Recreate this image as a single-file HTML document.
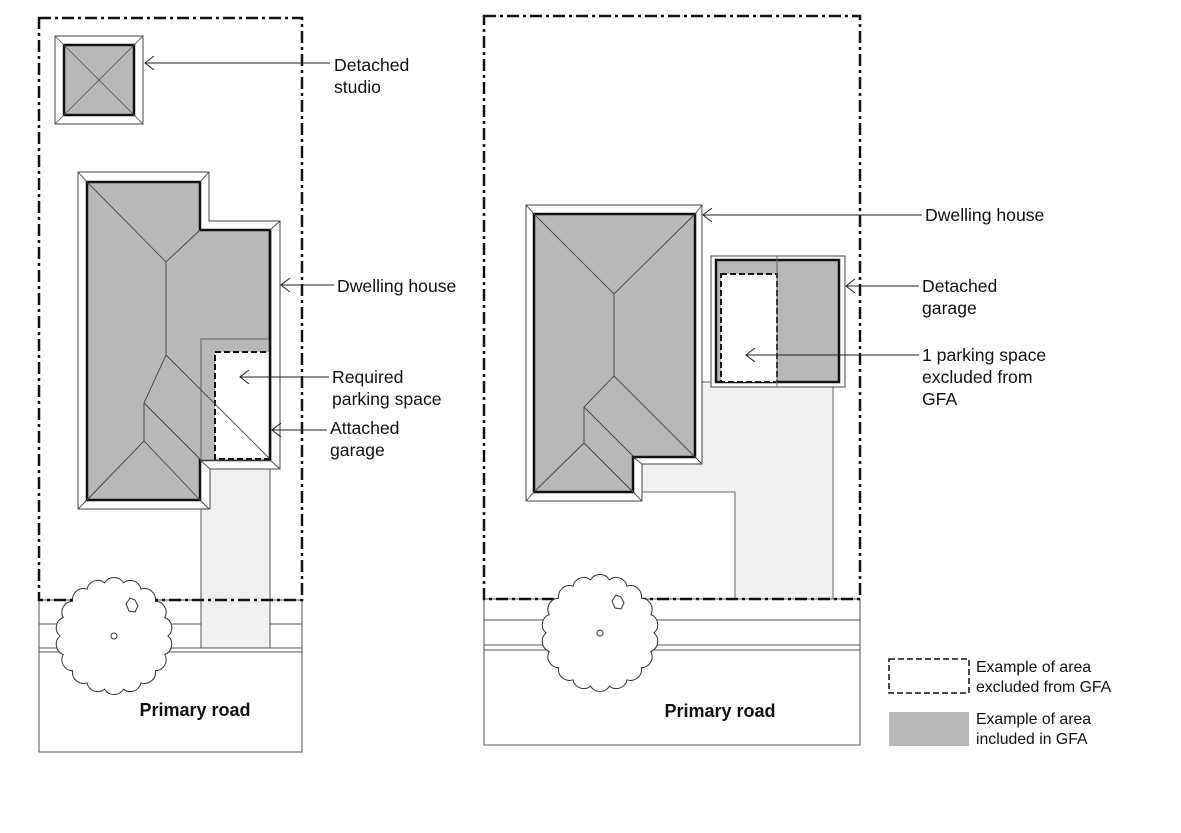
<!DOCTYPE html>
<html><head><meta charset="utf-8"><style>
html,body{margin:0;padding:0;background:#fff;}
svg{display:block;}
text{font-family:"Liberation Sans",Arial,sans-serif;font-size:17.6px;fill:#111;}
.lg{font-size:15.8px;}
.b{font-weight:bold;font-size:18px;}
</style></head><body>
<svg width="1181" height="833" viewBox="0 0 1181 833" xmlns="http://www.w3.org/2000/svg">
<defs>
<g id="tree" fill="#fff" stroke="#333" stroke-width="1">
<path d="M54,0 A11,11 0 0 1 50.8,18.5 A11,11 0 0 1 41.4,34.7 A11,11 0 0 1 27,46.8 A11,11 0 0 1 9.4,53.2 A11,11 0 0 1 -9.4,53.2 A11,11 0 0 1 -27,46.8 A11,11 0 0 1 -41.4,34.7 A11,11 0 0 1 -50.8,18.5 A11,11 0 0 1 -54,0 A11,11 0 0 1 -50.8,-18.5 A11,11 0 0 1 -41.4,-34.7 A11,11 0 0 1 -27,-46.8 A11,11 0 0 1 -9.4,-53.2 A11,11 0 0 1 9.4,-53.2 A11,11 0 0 1 27,-46.8 A11,11 0 0 1 41.4,-34.7 A11,11 0 0 1 50.8,-18.5 A11,11 0 0 1 54,0 Z"/>
<circle cx="0" cy="0" r="3"/>
<path d="M12,-32 l4,-6 l5,2 l3,6 l-3,6 l-6,-1 z" fill="none"/>
</g>
<marker id="ar" markerWidth="12" markerHeight="14" refX="1" refY="7" orient="auto" markerUnits="userSpaceOnUse">
<path d="M10,0 L1,7 L10,14" fill="none" stroke="#222" stroke-width="1"/>
</marker>
</defs>

<!-- LEFT -->
<rect x="39" y="600" width="263" height="152" fill="#fff" stroke="#555" stroke-width="1"/>
<line x1="39" y1="624" x2="302" y2="624" stroke="#555"/>
<line x1="39" y1="648" x2="302" y2="648" stroke="#555"/>
<line x1="39" y1="652" x2="302" y2="652" stroke="#555"/>
<rect x="201" y="459" width="69" height="189" fill="#f0f0f0" stroke="#555" stroke-width="1"/>
<rect x="39" y="18" width="263" height="582" fill="none" stroke="#111" stroke-width="2.5" stroke-dasharray="12,4,3,4"/>
<use href="#tree" x="114" y="636"/>
<rect x="55" y="36" width="88" height="88" fill="#fff" stroke="#444" stroke-width="1"/>
<rect x="64" y="45" width="70" height="70" fill="#b8b8b8" stroke="#111" stroke-width="2.5"/>
<path d="M55,36 L143,124 M143,36 L55,124" stroke="#555" stroke-width="0.8"/>
<path d="M78,172 L209,172 L209,221 L280,221 L280,469 L210,469 L210,509 L78,509 Z" fill="#fff" stroke="#444" stroke-width="1"/>
<path d="M87,182 L200,182 L200,230 L270,230 L270,460 L200,460 L200,500 L87,500 Z" fill="#b8b8b8" stroke="#111" stroke-width="2.5"/>
<rect x="201" y="339" width="69" height="121" fill="#b8b8b8" stroke="#666" stroke-width="1"/>
<rect x="215" y="352" width="55" height="107" fill="#fff" stroke="#111" stroke-width="2" stroke-dasharray="6,3"/>
<g stroke="#444" stroke-width="0.9" fill="none">
<path d="M78,172 L87,182 M209,172 L200,182 M280,221 L270,230 M280,469 L270,460 M78,509 L87,500 M209,509 L200,500 M210,469 L200,460"/>
<path d="M87,182 L166,262 L200,230 M166,262 L166,355 L144,403 L144,441 L87,500 M144,441 L200,500 M144,403 L200,459 M166,355 L270,459"/>
</g>
<line x1="270" y1="230" x2="270" y2="460" stroke="#111" stroke-width="2.5"/>
<line x1="145" y1="63" x2="330" y2="63" stroke="#222" marker-start="url(#ar)"/>
<text x="334" y="71">Detached</text><text x="334" y="93">studio</text>
<line x1="281" y1="285" x2="334" y2="285" stroke="#222" marker-start="url(#ar)"/>
<text x="337" y="292">Dwelling house</text>
<line x1="240" y1="377" x2="329" y2="377" stroke="#222" marker-start="url(#ar)"/>
<text x="332" y="383">Required</text><text x="332" y="405">parking space</text>
<line x1="272" y1="430" x2="327" y2="430" stroke="#222" marker-start="url(#ar)"/>
<text x="330" y="434">Attached</text><text x="330" y="456">garage</text>
<text class="b" x="195" y="716" text-anchor="middle">Primary road</text>

<!-- RIGHT -->
<rect x="484" y="599" width="376" height="146" fill="#fff" stroke="#555" stroke-width="1"/>
<line x1="484" y1="620" x2="860" y2="620" stroke="#555"/>
<line x1="484" y1="645" x2="860" y2="645" stroke="#555"/>
<line x1="484" y1="650" x2="860" y2="650" stroke="#555"/>
<path d="M695,382 L833,382 L833,599 L735,599 L735,492 L642,492 L642,464 L695,464 Z" fill="#f0f0f0" stroke="#666" stroke-width="1"/>
<rect x="484" y="16" width="376" height="583" fill="none" stroke="#111" stroke-width="2.5" stroke-dasharray="12,4,3,4"/>
<use href="#tree" x="600" y="633"/>
<path d="M526,205 L702,205 L702,464 L642,464 L642,501 L526,501 Z" fill="#fff" stroke="#444" stroke-width="1"/>
<path d="M534,214 L695,214 L695,457 L633,457 L633,492 L534,492 Z" fill="#b8b8b8" stroke="#111" stroke-width="2.5"/>
<g stroke="#444" stroke-width="0.9" fill="none">
<path d="M526,205 L534,214 M702,205 L695,214 M702,464 L695,457 M642,464 L633,457 M642,501 L633,492 M526,501 L534,492"/>
<path d="M534,214 L614,294 L695,214 M614,294 L614,376 L584,407 L584,443 L534,492 M584,443 L633,492 M584,407 L633,456 M614,376 L695,457"/>
</g>
<rect x="711" y="256" width="134" height="131" fill="#fff" stroke="#444" stroke-width="1"/>
<rect x="716" y="260" width="123" height="122" fill="#b8b8b8" stroke="#111" stroke-width="2.5"/>
<rect x="721" y="274" width="56" height="108" fill="#fff" stroke="#111" stroke-width="2" stroke-dasharray="6,3"/>
<line x1="777" y1="256" x2="777" y2="387" stroke="#666"/>
<line x1="703" y1="215" x2="922" y2="215" stroke="#222" marker-start="url(#ar)"/>
<text x="925" y="221">Dwelling house</text>
<line x1="846" y1="286" x2="919" y2="286" stroke="#222" marker-start="url(#ar)"/>
<text x="922" y="292">Detached</text><text x="922" y="314">garage</text>
<line x1="746" y1="355" x2="919" y2="355" stroke="#222" marker-start="url(#ar)"/>
<text x="922" y="361">1 parking space</text><text x="922" y="383">excluded from</text><text x="922" y="405">GFA</text>
<text class="b" x="720" y="717" text-anchor="middle">Primary road</text>

<rect x="889" y="659" width="80" height="34" fill="#fff" stroke="#111" stroke-width="1.5" stroke-dasharray="6,3"/>
<rect x="889" y="712" width="80" height="34" fill="#b8b8b8"/>
<text class="lg" x="976" y="672">Example of area</text>
<text class="lg" x="976" y="692">excluded from GFA</text>
<text class="lg" x="976" y="724">Example of area</text>
<text class="lg" x="976" y="744">included in GFA</text>
</svg>
</body></html>
